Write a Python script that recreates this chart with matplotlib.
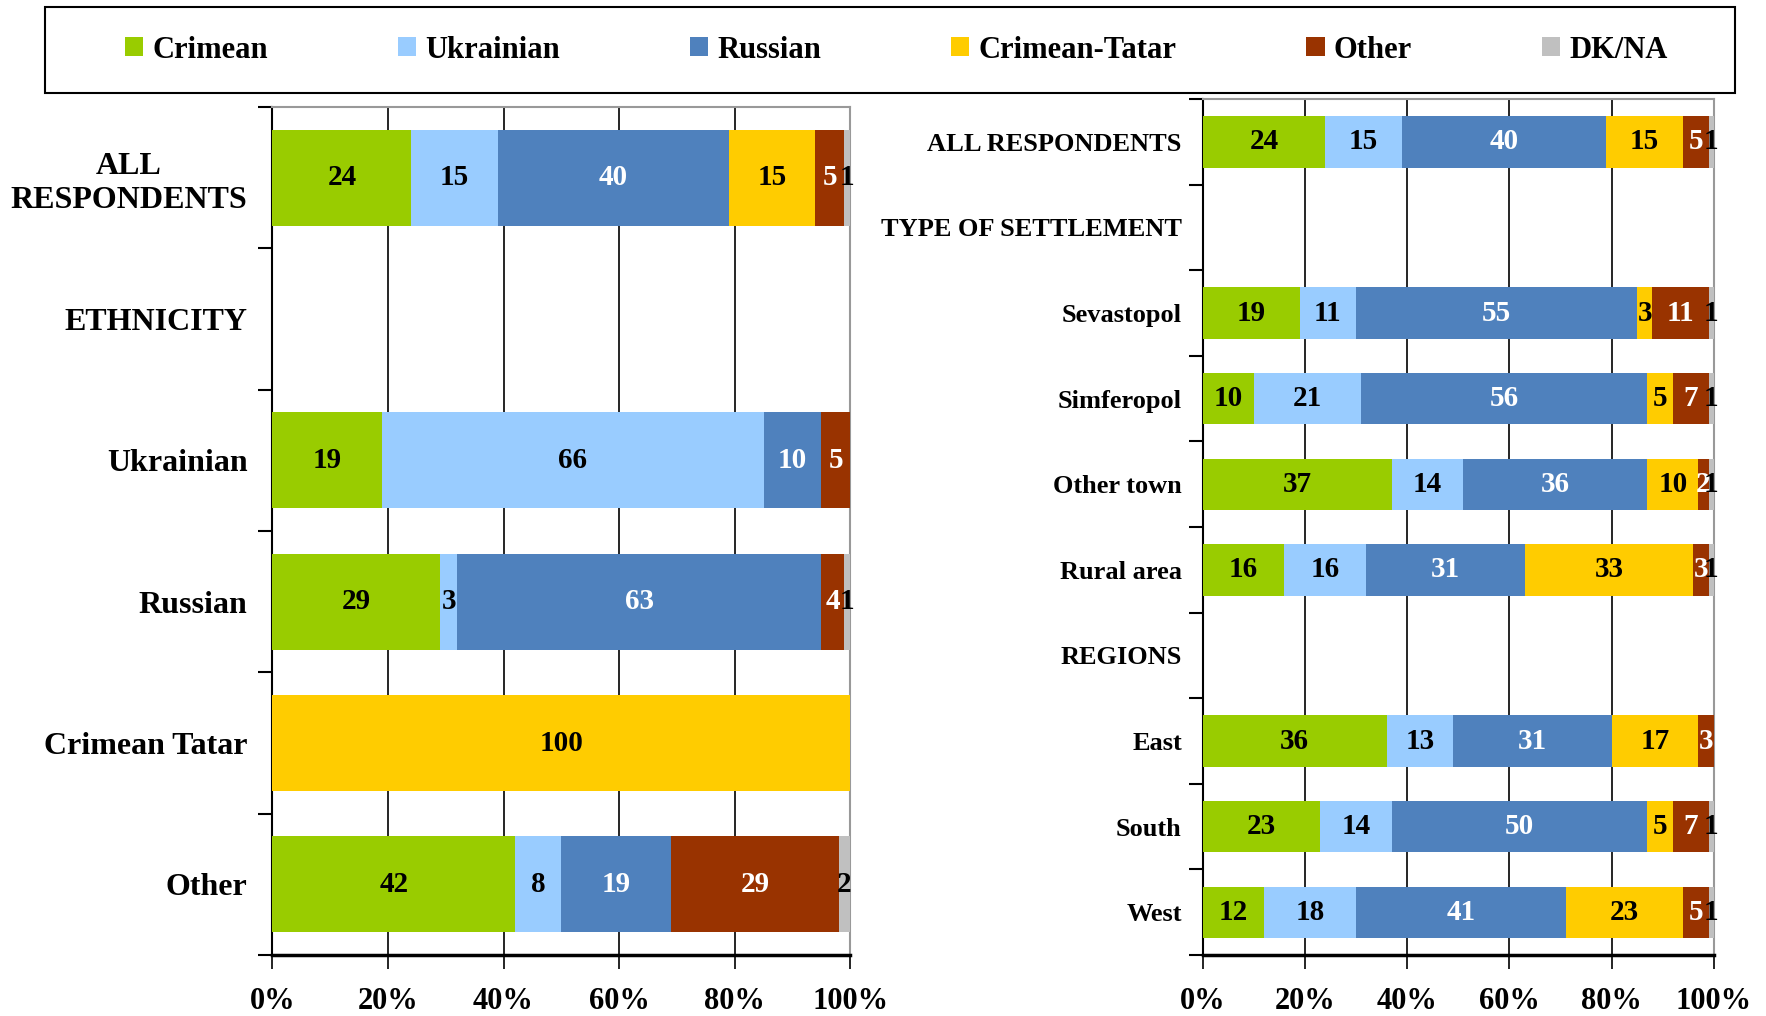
import numpy as np
from matplotlib import pyplot as plt
from matplotlib.patches import Rectangle

# Data
series = ['Crimean', 'Ukrainian', 'Russian', 'Crimean-Tatar', 'Other', 'DK/NA']
colors = ['#99CC00', '#99CCFF', '#4F81BD', '#FFCC00', '#993300', '#C0C0C0']
text_colors = ['black', 'black', 'white', 'black', 'white', 'black']

left_cats = ['ALL\nRESPONDENTS', 'ETHNICITY', 'Ukrainian', 'Russian',
             'Crimean Tatar', 'Other']
left_vals = [
    [24, 15, 40, 15, 5, 1],
    [0, 0, 0, 0, 0, 0],
    [19, 66, 10, 0, 5, 0],
    [29, 3, 63, 0, 4, 1],
    [0, 0, 0, 100, 0, 0],
    [42, 8, 19, 0, 29, 2],
]

right_cats = ['ALL RESPONDENTS', 'TYPE OF SETTLEMENT', 'Sevastopol', 'Simferopol',
              'Other town', 'Rural area', 'REGIONS', 'East', 'South', 'West']
right_vals = [
    [24, 15, 40, 15, 5, 1],
    [0, 0, 0, 0, 0, 0],
    [19, 11, 55, 3, 11, 1],
    [10, 21, 56, 5, 7, 1],
    [37, 14, 36, 10, 2, 1],
    [16, 16, 31, 33, 3, 1],
    [0, 0, 0, 0, 0, 0],
    [36, 13, 31, 17, 3, 0],
    [23, 14, 50, 5, 7, 1],
    [12, 18, 41, 23, 5, 1],
]

x_ticks = [0, 20, 40, 60, 80, 100]
x_labels = ['0%', '20%', '40%', '60%', '80%', '100%']

plt.rcParams['font.family'] = ['Liberation Serif', 'DejaVu Serif']
plt.rcParams['font.weight'] = 'bold'


def drawPanel(ax, cats, vals, bar_h, cat_size, pad):
    vals = np.array(vals, dtype=float)
    totals = vals.sum(axis=1)
    totals[totals == 0] = 1
    pct = vals / totals[:, None] * 100
    y = np.arange(len(cats))
    left = np.zeros(len(cats))
    for j, name in enumerate(series):
        ax.barh(y, pct[:, j], left=left, height=bar_h, color=colors[j],
                label=name, zorder=3)
        for i in range(len(cats)):
            if vals[i, j] > 0:
                ax.text(left[i] + pct[i, j] / 2, y[i], '%d' % vals[i, j],
                        ha='center', va='center', color=text_colors[j],
                        fontsize=21, fontweight='bold', zorder=4)
        left += pct[:, j]

    ax.set_xlim(0, 100)
    ax.set_ylim(len(cats) - 0.5, -0.5)
    ax.set_yticks(y)
    ax.set_yticklabels(cats, fontsize=cat_size, fontweight='bold',
                       multialignment='center')
    ax.tick_params(axis='y', which='major', length=0, pad=pad)
    ax.set_yticks(np.arange(len(cats) + 1) - 0.5, minor=True)
    ax.tick_params(axis='y', which='minor', length=10, width=1.5,
                   direction='out', color='black')
    ax.set_xticks(x_ticks)
    ax.set_xticklabels(x_labels, fontsize=22, fontweight='bold')
    ax.tick_params(axis='x', length=10, width=1.2, direction='out', pad=13)
    ax.grid(axis='x', color='black', linewidth=1.2, zorder=0)
    ax.set_axisbelow(True)
    ax.spines['left'].set_color('black')
    ax.spines['left'].set_linewidth(1.5)
    ax.spines['bottom'].set_color('black')
    ax.spines['bottom'].set_linewidth(2.5)
    ax.spines['top'].set_color('#999999')
    ax.spines['right'].set_color('#999999')
    ax.spines['top'].set_linewidth(1.5)
    ax.spines['right'].set_linewidth(1.5)


fig = plt.figure(figsize=(17.66, 10.16), dpi=100)

ax1 = fig.add_axes([0.1543, 0.060, 0.3271, 0.8346])
drawPanel(ax1, left_cats, left_vals, 0.68, 23, 18)

ax2 = fig.add_axes([0.6810, 0.060, 0.2894, 0.8425])
drawPanel(ax2, right_cats, right_vals, 0.6, 19, 15)

# Legend box
fig.patches.append(Rectangle((0.0255, 0.908), 0.957, 0.0855,
                             transform=fig.transFigure, fill=False,
                             edgecolor='black', linewidth=1.5))
handles, labels = ax1.get_legend_handles_labels()
fig.legend(handles, labels, loc='center', ncol=6, frameon=False,
           bbox_to_anchor=(0.055, 0.908, 0.905, 0.0855), mode='expand',
           prop={'size': 22, 'weight': 'bold'}, handlelength=0.6,
           handleheight=0.6, handletextpad=0.3)

plt.savefig('out.png', dpi=100)
